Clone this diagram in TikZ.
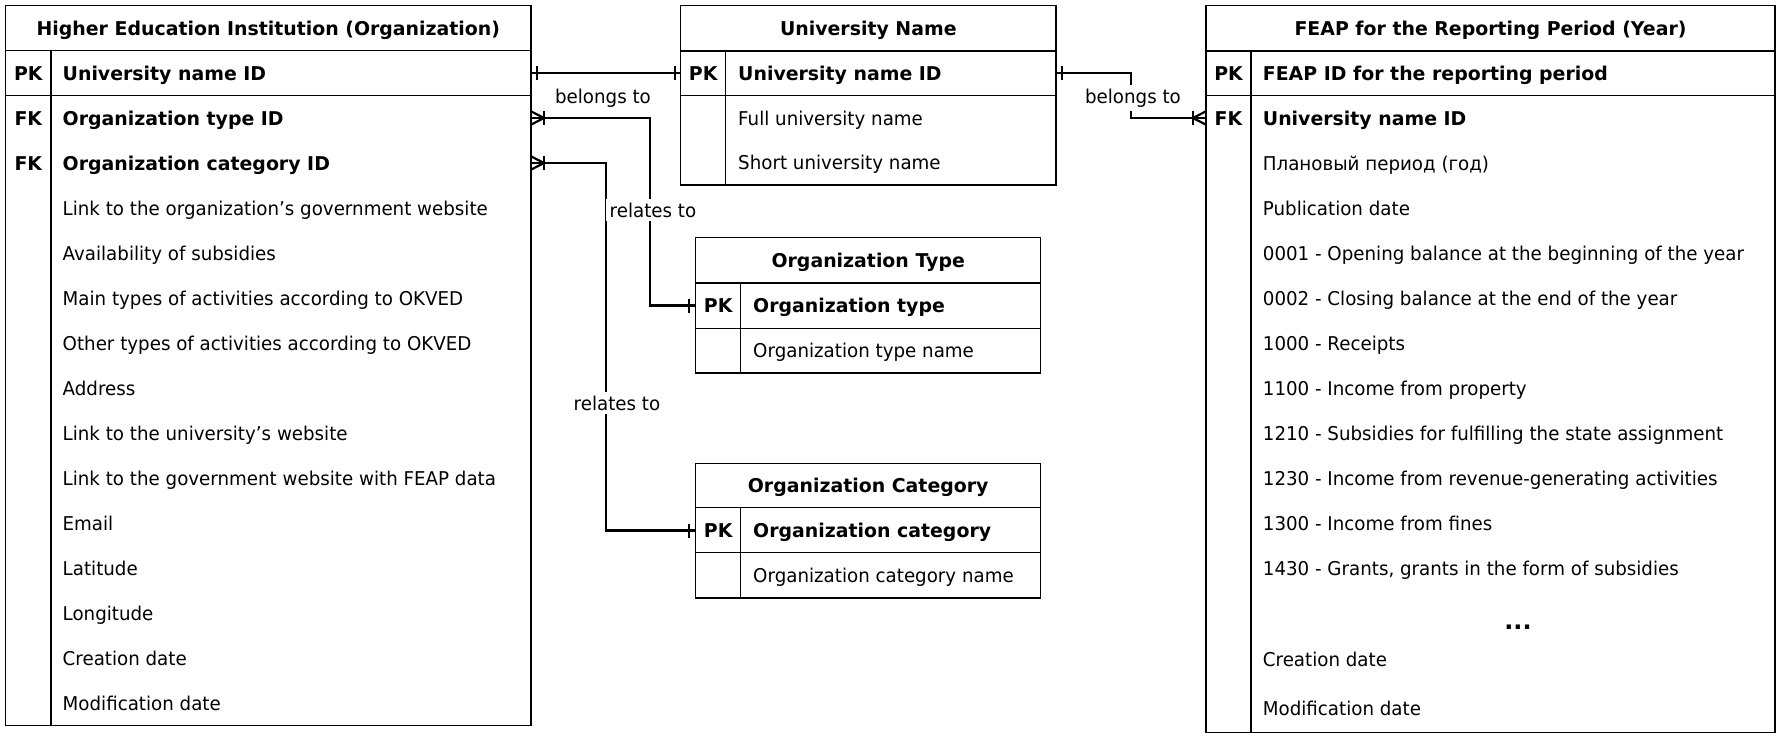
\documentclass[tikz,border=0pt]{standalone}
\usepackage{fontspec}
\setmainfont{DejaVu Sans}[FakeStretch=0.96,BoldFeatures={FakeStretch=0.995}]
\usetikzlibrary{calc}
\newcommand\erfs{\fontsize{19}{22}\selectfont}
\begin{document}
\begin{tikzpicture}[x=1pt,y=-1pt,
  tbl/.style={draw=black,line width=1.3pt},
  rowbox/.style={inner sep=0pt,outer sep=0pt,minimum height=45pt},
  fld/.style={anchor=base west,inner sep=0pt,font=\erfs},
  fldb/.style={fld,font=\erfs\bfseries},
  keyc/.style={anchor=base,inner sep=0pt,font=\erfs\bfseries},
  ttl/.style={anchor=base,inner sep=0pt,font=\erfs\bfseries},
  conn/.style={line width=2.6pt},
  erbar/.style={line width=2.2pt},
  lbl/.style={fill=white,inner sep=4pt,font=\erfs}]
\fill[white] (0,0) rectangle (1782,739);
\useasboundingbox (0,0) rectangle (1782,739);

% ---------- Higher Education Institution ----------
\draw[tbl] (5.7,5.7) rectangle (531,725.5);
\draw[tbl] (5.7,50.5) -- (531,50.5);
\draw[tbl] (5.7,95.5) -- (531,95.5);
\draw[tbl] (51,50.5) -- (51,725.5);
\node[ttl] (hei-title) at (268.3,35) {Higher Education Institution (Organization)};
\node[rowbox,minimum width=525.3pt] (hei-pk) at (268.3,73) {};
\node[rowbox,minimum width=525.3pt] (hei-fk1) at (268.3,118) {};
\node[rowbox,minimum width=525.3pt] (hei-fk2) at (268.3,163) {};
\node[keyc] (hei-k0) at (28.3,80) {PK};
\node[keyc] (hei-k1) at (28.3,125) {FK};
\node[keyc] (hei-k2) at (28.3,170) {FK};
\node[fldb] (hei-n0) at (62.5,80) {University name ID};
\node[fldb] (hei-n1) at (62.5,125) {Organization type ID};
\node[fldb] (hei-n2) at (62.5,170) {Organization category ID};
\foreach \t [count=\i from 0] in {Link to the organization’s government website,
  Availability of subsidies, Main types of activities according to OKVED,
  Other types of activities according to OKVED, Address,
  Link to the university’s website, Link to the government website with FEAP data,
  Email, Latitude, Longitude, Creation date, Modification date}
  \node[fld] (hei-f\i) at (62.5,215+45*\i) {\t};

% ---------- University Name ----------
\draw[tbl] (680.7,5.7) rectangle (1056,185);
\draw[tbl] (680.7,51) -- (1056,51);
\draw[tbl] (680.7,95.7) -- (1056,95.7);
\draw[tbl] (725.7,51) -- (725.7,185);
\node[ttl] (un-title) at (868.3,35) {University Name};
\node[rowbox,minimum width=375.3pt] (un-pk) at (868.3,73) {};
\node[keyc] (un-k0) at (703.2,80) {PK};
\node[fldb] (un-n0) at (738,80) {University name ID};
\node[fld] (un-f0) at (738,125) {Full university name};
\node[fld] (un-f1) at (738,169.5) {Short university name};

% ---------- Organization Type ----------
\draw[tbl] (695.7,237.5) rectangle (1040.7,373);
\draw[tbl] (695.7,283) -- (1040.7,283);
\draw[tbl] (695.7,328.5) -- (1040.7,328.5);
\draw[tbl] (740.7,283) -- (740.7,373);
\node[ttl] (ot-title) at (868.2,267) {Organization Type};
\node[rowbox,minimum width=345pt] (ot-pk) at (868.2,305.7) {};
\node[keyc] (ot-k0) at (718.2,312.7) {PK};
\node[fldb] (ot-n0) at (753,312.7) {Organization type};
\node[fld] (ot-f0) at (753,357.7) {Organization type name};

% ---------- Organization Category ----------
\draw[tbl] (695.7,463.3) rectangle (1040.7,598);
\draw[tbl] (695.7,507.7) -- (1040.7,507.7);
\draw[tbl] (695.7,552.7) -- (1040.7,552.7);
\draw[tbl] (740.7,507.7) -- (740.7,598);
\node[ttl] (oc-title) at (868.2,492.5) {Organization Category};
\node[rowbox,minimum width=345pt] (oc-pk) at (868.2,530.5) {};
\node[keyc] (oc-k0) at (718.2,537.5) {PK};
\node[fldb] (oc-n0) at (753,537.5) {Organization category};
\node[fld] (oc-f0) at (753,582.5) {Organization category name};

% ---------- FEAP ----------
\draw[tbl] (1206,5.7) rectangle (1775,732.5);
\draw[tbl] (1206,51) -- (1775,51);
\draw[tbl] (1206,95.7) -- (1775,95.7);
\draw[tbl] (1251,51) -- (1251,732.5);
\node[ttl] (fe-title) at (1490.5,35) {FEAP for the Reporting Period (Year)};
\node[rowbox,minimum width=569pt] (fe-fk) at (1490.5,118) {};
\node[keyc] (fe-k0) at (1228.5,80) {PK};
\node[keyc] (fe-k1) at (1228.5,125) {FK};
\node[fldb] (fe-n0) at (1262.7,80) {FEAP ID for the reporting period};
\node[fldb] (fe-n1) at (1262.7,125) {University name ID};
\foreach \t [count=\i from 0] in {Плановый период (год), Publication date,
  0001 - Opening balance at the beginning of the year,
  0002 - Closing balance at the end of the year, 1000 - Receipts,
  1100 - Income from property, 1210 - Subsidies for fulfilling the state assignment,
  1230 - Income from revenue-generating activities, 1300 - Income from fines,
  {1430 - Grants, grants in the form of subsidies}}
  \node[fld] (fe-f\i) at (1262.7,170+45*\i) {\t};
\node[keyc,font=\fontsize{24}{26}\selectfont\bfseries] (fe-dots) at (1518,629) {...};
\node[fld] (fe-cd) at (1262.7,666) {Creation date};
\node[fld] (fe-md) at (1262.7,715) {Modification date};

% ---------- connectors ----------
\coordinate (c2) at (1131,0);
\coordinate (c3) at (650,0);
\coordinate (c4) at (606,0);
\draw[conn] (hei-pk.east) -- (un-pk.west);
\draw[conn] (un-pk.east) -- (un-pk.east -| c2) -- (fe-fk.west -| c2) -- (fe-fk.west);
\draw[conn] (hei-fk1.east) -- (hei-fk1.east -| c3) -- (ot-pk.west -| c3) -- (ot-pk.west);
\draw[conn] (hei-fk2.east) -- (hei-fk2.east -| c4) -- (oc-pk.west -| c4) -- (oc-pk.west);

% markers: one
\draw[erbar] ($(hei-pk.east)+(6,-7)$) -- ++(0,14);
\draw[erbar] ($(un-pk.west)+(-6,-7)$) -- ++(0,14);
\draw[erbar] ($(un-pk.east)+(6,-7)$) -- ++(0,14);
\draw[erbar] ($(ot-pk.west)+(-6.5,-7)$) -- ++(0,14);
\draw[erbar] ($(oc-pk.west)+(-6.5,-7)$) -- ++(0,14);
% markers: one or many (crow's foot)
\draw[erbar] ($(fe-fk.west)+(-13,-7)$) -- ++(0,14);
\draw[erbar] ($(fe-fk.west)+(0,-6.7)$) -- ($(fe-fk.west)+(-13,0)$) -- ($(fe-fk.west)+(0,6.7)$);
\draw[erbar] ($(hei-fk1.east)+(13,-7)$) -- ++(0,14);
\draw[erbar] ($(hei-fk1.east)+(0,-6.7)$) -- ($(hei-fk1.east)+(13,0)$) -- ($(hei-fk1.east)+(0,6.7)$);
\draw[erbar] ($(hei-fk2.east)+(13,-7)$) -- ++(0,14);
\draw[erbar] ($(hei-fk2.east)+(0,-6.7)$) -- ($(hei-fk2.east)+(13,0)$) -- ($(hei-fk2.east)+(0,6.7)$);

% labels
\node[lbl] (l1) at (603,98) {belongs to};
\node[lbl] (l2) at (1133,98) {belongs to};
\node[lbl] (l3) at (653,210) {relates to};
\node[lbl] (l4) at (617,403) {relates to};
\end{tikzpicture}
\end{document}
